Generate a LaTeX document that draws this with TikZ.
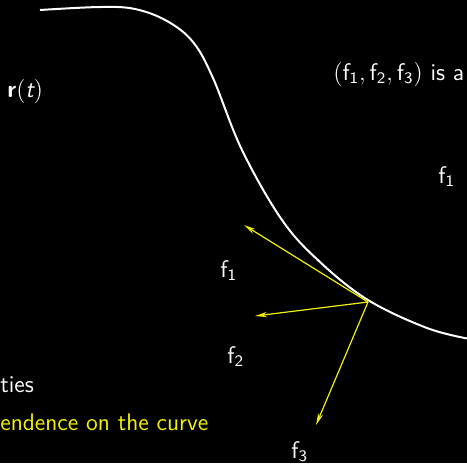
\documentclass[tikz,border=0pt]{standalone}
\usepackage{tikz}
\usetikzlibrary{arrows.meta}
\definecolor{vecc}{HTML}{F2F200}
\newcommand{\fv}[1]{\mathsf{f}_{\mathsf{#1}}}

\begin{document}
\begin{tikzpicture}[x=0.5pt,y=-0.5pt,
  font=\sffamily\fontsize{12}{14}\selectfont,
  lbl/.style={text=white,inner sep=0pt,anchor=base west},
  vec/.style={draw=vecc,line width=0.6pt,-{Stealth[length=6pt,width=2.6pt]}},
]
% background, fixes the frame
\fill[black] (0,0) rectangle (467,463);
\useasboundingbox (0,0) rectangle (467,463);

% the curve
\draw[white,line width=1pt] plot[smooth,tension=0.6] coordinates {
  (40,10) (100,7) (135,9) (167,21) (193,42) (213,78) (242,150)
  (282,220) (320,262) (368,300) (427,328) (470,339)};
\node[lbl] (rt) at (7,97) {\textbf{r}$(\textit{t})$};

% the frame at one point
\coordinate (o) at (368,302);
\coordinate (t1) at (244,225);
\coordinate (t2) at (255,316);
\coordinate (t3) at (316,425);
\draw[vec] (o) -- (t1);
\draw[vec] (o) -- (t2);
\draw[vec] (o) -- (t3);
\node[lbl] (l1) at (220,277) {$\fv{1}$};
\node[lbl] (l2) at (227,363) {$\fv{2}$};
\node[lbl] (l3) at (291,458) {$\fv{3}$};

% text on the right
\node[lbl] (frm) at (333,80) {$(\fv{1},\fv{2},\fv{3})$ is a};
\node[lbl] (f1r) at (438,183) {$\fv{1}$};

% text bottom left
\node[lbl] (prop) at (0,392) {ties};
\node[lbl,text=vecc] (dep) at (0,430) {endence on the curve};
\end{tikzpicture}
\end{document}
